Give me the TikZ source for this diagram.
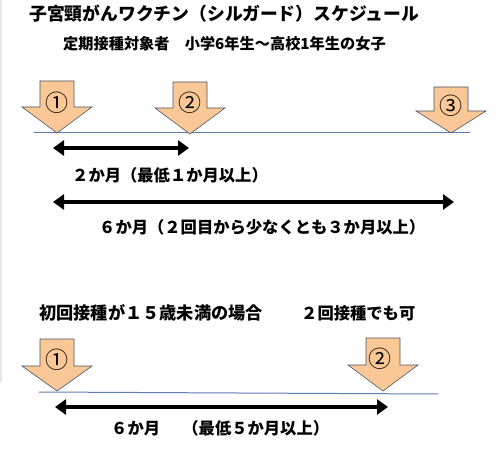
\documentclass[tikz,border=0pt]{standalone}
\usepackage{fontspec}
\setmainfont{Noto Sans CJK JP}
\usetikzlibrary{arrows.meta}
\definecolor{arrfill}{HTML}{FAC896}
\definecolor{arrdraw}{HTML}{4A5568}
\definecolor{tline}{HTML}{5B7DB1}
\definecolor{edge}{HTML}{E6E6E6}
\tikzset{
  dnarrow/.style={fill=arrfill, draw=arrdraw, line width=0.6pt, line join=miter},
  timeline/.style={draw=tline, line width=1pt},
  span/.style={line width=3.6pt, {Triangle[length=11pt,width=15pt]}-{Triangle[length=11pt,width=15pt]}, shorten <=0pt, shorten >=0pt},
  num/.style={font=\fontsize{23}{23}\selectfont, inner sep=0pt},
  lbl/.style={font=\fontsize{16.3}{17}\selectfont\bfseries, inner sep=0pt, anchor=west},
}
% #1 name, #2 x, #3 top y, #4 wing y, #5 tip y
\newcommand{\DownArrow}[5]{%
  \path[dnarrow] (#2-17,#3) -- (#2+17,#3) -- (#2+17,#4) -- (#2+35,#4) -- (#2,#5) -- (#2-35,#4) -- (#2-17,#4) -- cycle;
  \coordinate (#1) at (#2,#5);
}
\begin{document}
\begin{tikzpicture}[x=1pt,y=-1pt]
\useasboundingbox (0,0) rectangle (500,457);
\fill[white] (0,0) rectangle (500,457);
\draw[edge, line width=1.2pt] (1,0) -- (1,382);

\node[font=\fontsize{17.8}{18}\selectfont\bfseries, inner sep=0pt, anchor=west] (title) at (29,14) {子宮頸がんワクチン（シルガード）スケジュール};
\node[font=\fontsize{15.2}{16}\selectfont\bfseries, inner sep=0pt, anchor=west] (sub) at (63,44) {定期接種対象者　小学6年生～高校1年生の女子};

% upper schedule
\coordinate (tl1a) at (34,133);
\coordinate (tl1b) at (470,133);
\draw[timeline] (tl1a) -- (tl1b);
\DownArrow{t1}{57}{81}{107}{133}
\DownArrow{t2}{190}{82}{108}{134}
\DownArrow{t3}{451}{87}{111}{133}
\node[num] (n1) at (57,103) {①};
\node[num] (n2) at (190,103) {②};
\node[num] (n3) at (451,106) {③};

\coordinate (s1a) at (53,148);
\coordinate (s1b) at (189,148);
\draw[span] (s1a) -- (s1b);
\node[lbl] (l1) at (72,175) {２か月（最低１か月以上）};

\coordinate (s2a) at (53,202);
\coordinate (s2b) at (454,202);
\draw[span] (s2a) -- (s2b);
\node[lbl] (l2) at (99,227) {６か月（２回目から少なくとも３か月以上）};

% lower schedule
\node[lbl, font=\fontsize{17.2}{17}\selectfont\bfseries] (l3) at (39,313) {初回接種が１５歳未満の場合};
\node[lbl] (l4) at (301,313) {２回接種でも可};

\coordinate (tl2a) at (39,392);
\coordinate (tl2b) at (438,394);
\draw[timeline] (tl2a) -- (tl2b);
\DownArrow{b1}{57}{339}{366}{391}
\DownArrow{b2}{383}{338}{365}{391}
\node[num] (m1) at (57,360) {①};
\node[num] (m2) at (380,359) {②};

\coordinate (s3a) at (55,407);
\coordinate (s3b) at (388,407);
\draw[span] (s3a) -- (s3b);
\node[lbl] (l5) at (111,428) {６か月\hspace{6pt}　（最低５か月以上）};
\end{tikzpicture}
\end{document}
